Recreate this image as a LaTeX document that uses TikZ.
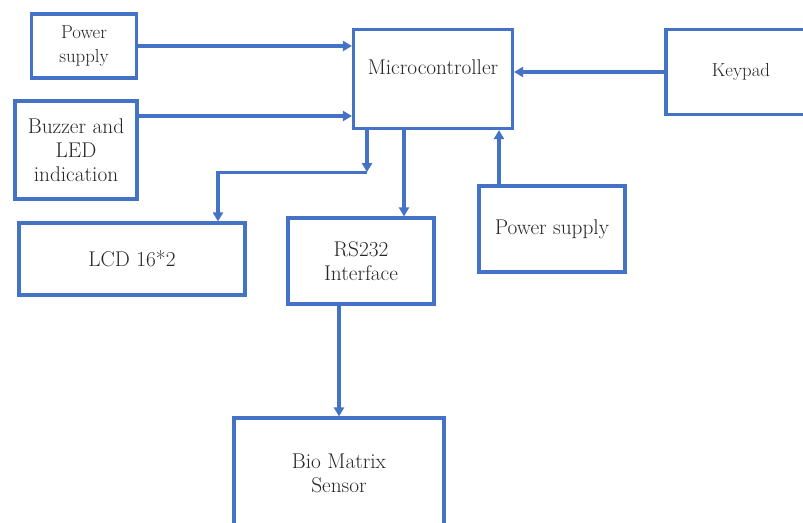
\documentclass[tikz,border=0pt]{standalone}
\usepackage{tikz}
\usetikzlibrary{arrows.meta, positioning}
\definecolor{wordblue}{RGB}{68,114,196}
\tikzset{
  block/.style={draw=wordblue, line width=3.2pt, fill=white, align=center, inner sep=0pt,
    font=\fontsize{21.3}{24}\selectfont, text=black!85},
  smallblock/.style={block, font=\fontsize{18.8}{24}\selectfont},
  link/.style={draw=wordblue, line width=3.2pt, -{Triangle[length=9pt,width=10pt]}},
}

\begin{document}
\begin{tikzpicture}[x=1pt,y=-1pt]
            \useasboundingbox (0,0) rectangle (803,522);
            \clip (0,0) rectangle (803,522);
            % blocks
            \node [smallblock, minimum width=105, minimum height=64] (psone) at (84,46) {Power\\supply};
            \node [block, minimum width=122, minimum height=98] (buzz) at (76,150) {Buzzer and\\LED\\indication};
            \node [block, minimum width=159, minimum height=99] (micro) at (433,79) {};
            \node [font=\fontsize{21.3}{24}\selectfont, text=black!85] (microtext) at (433,67) {Microcontroller};
            \node [smallblock, minimum width=150, minimum height=85] (keypad) at (741,72) {Keypad};
            \node [block, minimum width=226, minimum height=72] (lcd) at (132,259) {LCD 16*2};
            \node [block, minimum width=146, minimum height=86] (rs) at (361,261) {RS232\\Interface};
            \node [block, minimum width=146, minimum height=86] (pstwo) at (552,229) {Power supply};
            \node [block, minimum width=210, minimum height=110] (bio) at (339,473) {Bio Matrix\\Sensor};
            % connectors
            \draw [link] (psone.east) -- (psone.east -| micro.west);
            \draw [link] ([yshift=34pt]buzz.east) -- ([yshift=34pt]buzz.east -| micro.west);
            \draw [link] (keypad.west) -- (keypad.west -| micro.east);
            \coordinate (bend) at ([xshift=-66pt, yshift=-42pt]micro.south);
            \draw [link] ([xshift=-66pt]micro.south) -- (bend);
            \draw [link] (bend) -| ([xshift=86pt]lcd.north);
            \draw [link] ([xshift=-29pt]micro.south) -- ([xshift=-29pt]micro.south |- rs.north);
            \draw [link] ([xshift=-53pt]pstwo.north) -- ([xshift=-53pt]pstwo.north |- micro.south);
            \draw [link] (bio.north |- rs.south) -- (bio.north);
\end{tikzpicture}
\end{document}
